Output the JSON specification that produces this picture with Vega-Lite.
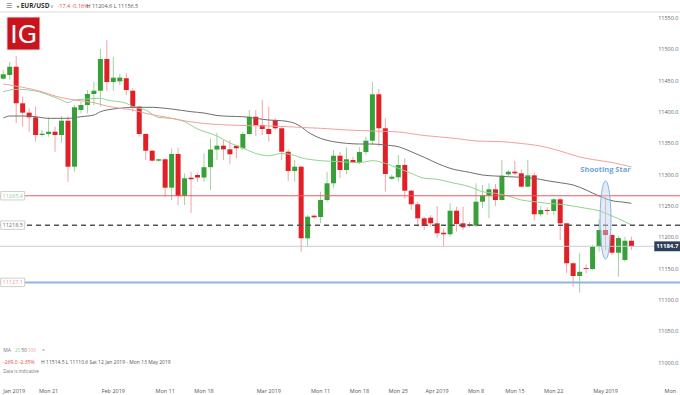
{
  "$schema": "https://vega.github.io/schema/vega-lite/v6.json",
  "width": 680,
  "height": 385,
  "autosize": {"type": "none"},
  "padding": {"left": 0, "top": 0, "right": 0, "bottom": 10},
  "background": "white",
  "config": {"view": {"stroke": null}, "font": "Open Sans"},
  "datasets": {
    "candles": [
      {"d":"2019-01-13","o":11452.3,"h":11466.1,"l":11450.7,"c":11459.3},
      {"d":"2019-01-14","o":11458.2,"h":11479.4,"l":11450.7,"c":11471.4},
      {"d":"2019-01-15","o":11471.4,"h":11488.5,"l":11381.1,"c":11413.0},
      {"d":"2019-01-16","o":11413.0,"h":11423.5,"l":11375.6,"c":11398.0},
      {"d":"2019-01-17","o":11398.0,"h":11405.0,"l":11367.6,"c":11390.6},
      {"d":"2019-01-18","o":11390.6,"h":11407.6,"l":11351.7,"c":11362.4},
      {"d":"2019-01-20","o":11362.4,"h":11370.4,"l":11359.7,"c":11364.5},
      {"d":"2019-01-21","o":11364.0,"h":11390.6,"l":11359.7,"c":11367.6},
      {"d":"2019-01-22","o":11367.6,"h":11375.6,"l":11335.7,"c":11362.4},
      {"d":"2019-01-23","o":11362.4,"h":11392.7,"l":11350.1,"c":11385.2},
      {"d":"2019-01-24","o":11385.2,"h":11392.7,"l":11287.8,"c":11311.8},
      {"d":"2019-01-25","o":11311.8,"h":11410.3,"l":11303.8,"c":11406.6},
      {"d":"2019-01-27","o":11402.3,"h":11415.5,"l":11397.0,"c":11410.3},
      {"d":"2019-01-28","o":11410.3,"h":11434.2,"l":11397.0,"c":11427.8},
      {"d":"2019-01-29","o":11427.8,"h":11447.5,"l":11410.3,"c":11433.1},
      {"d":"2019-01-30","o":11433.1,"h":11499.7,"l":11407.6,"c":11483.7},
      {"d":"2019-01-31","o":11483.7,"h":11514.5,"l":11433.1,"c":11447.0},
      {"d":"2019-02-01","o":11447.0,"h":11487.4,"l":11433.1,"c":11453.9},
      {"d":"2019-02-03","o":11448.0,"h":11460.0,"l":11442.0,"c":11454.0},
      {"d":"2019-02-04","o":11452.9,"h":11460.9,"l":11426.2,"c":11434.2},
      {"d":"2019-02-05","o":11433.1,"h":11436.9,"l":11399.6,"c":11407.6},
      {"d":"2019-02-06","o":11407.6,"h":11409.0,"l":11359.7,"c":11364.0},
      {"d":"2019-02-07","o":11364.0,"h":11365.1,"l":11322.5,"c":11337.3},
      {"d":"2019-02-08","o":11337.3,"h":11338.5,"l":11319.8,"c":11321.4},
      {"d":"2019-02-10","o":11321.4,"h":11325.2,"l":11319.8,"c":11323.6},
      {"d":"2019-02-11","o":11323.6,"h":11325.2,"l":11263.9,"c":11278.3},
      {"d":"2019-02-12","o":11278.3,"h":11341.2,"l":11258.6,"c":11332.1},
      {"d":"2019-02-13","o":11332.1,"h":11341.2,"l":11250.6,"c":11265.0},
      {"d":"2019-02-14","o":11265.0,"h":11301.2,"l":11250.6,"c":11293.3},
      {"d":"2019-02-15","o":11294.2,"h":11303.8,"l":11237.9,"c":11291.7},
      {"d":"2019-02-17","o":11298.5,"h":11301.2,"l":11287.8,"c":11294.5},
      {"d":"2019-02-18","o":11294.5,"h":11333.2,"l":11287.8,"c":11311.0},
      {"d":"2019-02-19","o":11311.0,"h":11356.8,"l":11274.6,"c":11339.2},
      {"d":"2019-02-20","o":11339.2,"h":11366.4,"l":11322.5,"c":11345.3},
      {"d":"2019-02-21","o":11345.3,"h":11354.4,"l":11322.5,"c":11339.5},
      {"d":"2019-02-22","o":11339.5,"h":11354.4,"l":11315.6,"c":11331.6},
      {"d":"2019-02-24","o":11345.3,"h":11346.5,"l":11325.2,"c":11341.2},
      {"d":"2019-02-25","o":11341.2,"h":11367.6,"l":11338.4,"c":11364.0},
      {"d":"2019-02-26","o":11364.0,"h":11402.3,"l":11362.4,"c":11391.6},
      {"d":"2019-02-27","o":11391.6,"h":11402.3,"l":11360.8,"c":11378.3},
      {"d":"2019-02-28","o":11378.3,"h":11418.3,"l":11362.4,"c":11372.0},
      {"d":"2019-03-01","o":11372.0,"h":11407.6,"l":11351.7,"c":11364.0},
      {"d":"2019-03-03","o":11386.3,"h":11389.0,"l":11370.4,"c":11373.1},
      {"d":"2019-03-04","o":11373.1,"h":11375.6,"l":11322.5,"c":11335.7},
      {"d":"2019-03-05","o":11335.7,"h":11339.5,"l":11289.4,"c":11304.9},
      {"d":"2019-03-06","o":11304.9,"h":11322.5,"l":11287.8,"c":11311.8},
      {"d":"2019-03-07","o":11311.8,"h":11312.9,"l":11176.1,"c":11197.5},
      {"d":"2019-03-08","o":11197.5,"h":11234.7,"l":11184.1,"c":11232.0},
      {"d":"2019-03-10","o":11233.6,"h":11235.0,"l":11229.0,"c":11231.0},
      {"d":"2019-03-11","o":11231.5,"h":11271.9,"l":11221.4,"c":11258.6},
      {"d":"2019-03-12","o":11258.6,"h":11303.8,"l":11255.9,"c":11285.3},
      {"d":"2019-03-13","o":11285.3,"h":11338.4,"l":11277.3,"c":11329.3},
      {"d":"2019-03-14","o":11329.3,"h":11335.7,"l":11293.3,"c":11306.5},
      {"d":"2019-03-15","o":11306.5,"h":11342.8,"l":11300.1,"c":11323.6},
      {"d":"2019-03-17","o":11322.5,"h":11327.7,"l":11317.2,"c":11318.8},
      {"d":"2019-03-18","o":11318.2,"h":11342.8,"l":11316.1,"c":11335.2},
      {"d":"2019-03-19","o":11335.2,"h":11359.7,"l":11330.5,"c":11353.3},
      {"d":"2019-03-20","o":11353.3,"h":11447.5,"l":11346.4,"c":11427.4},
      {"d":"2019-03-21","o":11427.4,"h":11435.8,"l":11343.7,"c":11373.1},
      {"d":"2019-03-22","o":11373.1,"h":11389.0,"l":11271.9,"c":11300.1},
      {"d":"2019-03-24","o":11292.6,"h":11299.3,"l":11290.5,"c":11295.8},
      {"d":"2019-03-25","o":11294.9,"h":11330.5,"l":11287.8,"c":11314.5},
      {"d":"2019-03-26","o":11314.5,"h":11325.2,"l":11261.3,"c":11273.5},
      {"d":"2019-03-27","o":11273.5,"h":11274.6,"l":11242.7,"c":11251.8},
      {"d":"2019-03-28","o":11251.8,"h":11255.9,"l":11216.0,"c":11229.4},
      {"d":"2019-03-29","o":11229.4,"h":11232.0,"l":11210.7,"c":11217.1},
      {"d":"2019-03-31","o":11230.4,"h":11234.7,"l":11216.0,"c":11221.4},
      {"d":"2019-04-01","o":11221.4,"h":11249.0,"l":11198.4,"c":11205.5},
      {"d":"2019-04-02","o":11206.4,"h":11213.4,"l":11184.1,"c":11203.9},
      {"d":"2019-04-03","o":11203.9,"h":11253.4,"l":11200.0,"c":11241.5},
      {"d":"2019-04-04","o":11241.5,"h":11247.9,"l":11208.0,"c":11220.3},
      {"d":"2019-04-05","o":11221.4,"h":11247.9,"l":11210.7,"c":11215.0},
      {"d":"2019-04-07","o":11219.8,"h":11223.5,"l":11215.0,"c":11217.6},
      {"d":"2019-04-08","o":11217.6,"h":11285.3,"l":11216.0,"c":11255.9},
      {"d":"2019-04-09","o":11255.9,"h":11282.6,"l":11245.8,"c":11265.8},
      {"d":"2019-04-10","o":11265.8,"h":11285.3,"l":11229.4,"c":11275.7},
      {"d":"2019-04-11","o":11275.7,"h":11284.2,"l":11249.0,"c":11258.6},
      {"d":"2019-04-12","o":11258.6,"h":11322.5,"l":11257.5,"c":11297.4},
      {"d":"2019-04-14","o":11299.6,"h":11306.5,"l":11295.8,"c":11303.8},
      {"d":"2019-04-15","o":11303.8,"h":11321.4,"l":11298.5,"c":11301.2},
      {"d":"2019-04-16","o":11301.2,"h":11307.6,"l":11278.9,"c":11279.9},
      {"d":"2019-04-17","o":11279.9,"h":11322.5,"l":11278.9,"c":11298.0},
      {"d":"2019-04-18","o":11298.0,"h":11302.2,"l":11226.7,"c":11235.8},
      {"d":"2019-04-19","o":11235.8,"h":11249.0,"l":11232.0,"c":11242.7},
      {"d":"2019-04-21","o":11242.7,"h":11247.0,"l":11234.7,"c":11241.1},
      {"d":"2019-04-22","o":11241.1,"h":11261.3,"l":11234.7,"c":11259.7},
      {"d":"2019-04-23","o":11259.7,"h":11261.3,"l":11194.8,"c":11221.4},
      {"d":"2019-04-24","o":11221.4,"h":11223.0,"l":11141.6,"c":11157.6},
      {"d":"2019-04-25","o":11157.6,"h":11159.2,"l":11120.2,"c":11137.3},
      {"d":"2019-04-26","o":11137.3,"h":11173.5,"l":11110.6,"c":11144.0},
      {"d":"2019-04-28","o":11150.0,"h":11156.0,"l":11141.6,"c":11148.5},
      {"d":"2019-04-29","o":11148.5,"h":11186.8,"l":11146.9,"c":11184.1},
      {"d":"2019-04-30","o":11184.1,"h":11227.8,"l":11176.1,"c":11210.7},
      {"d":"2019-05-01","o":11210.7,"h":11263.4,"l":11178.8,"c":11202.7},
      {"d":"2019-05-02","o":11202.7,"h":11204.3,"l":11170.8,"c":11174.5},
      {"d":"2019-05-03","o":11174.5,"h":11201.1,"l":11136.2,"c":11197.9},
      {"d":"2019-05-05","o":11162.8,"h":11200.0,"l":11160.1,"c":11193.6},
      {"d":"2019-05-06","o":11193.6,"h":11200.0,"l":11178.8,"c":11184.7}
    ],
    "ma": [
      {"p":"20","d":"2019-01-13","v":11431.5},{"p":"20","d":"2019-01-15","v":11435.3},{"p":"20","d":"2019-01-18","v":11432.6},{"p":"20","d":"2019-01-21","v":11426.2},{"p":"20","d":"2019-01-23","v":11418.3},{"p":"20","d":"2019-01-24","v":11414.0},{"p":"20","d":"2019-01-25","v":11418.3},{"p":"20","d":"2019-01-28","v":11419.9},{"p":"20","d":"2019-01-30","v":11421.0},{"p":"20","d":"2019-01-31","v":11418.3},{"p":"20","d":"2019-02-04","v":11413.0},{"p":"20","d":"2019-02-05","v":11407.6},{"p":"20","d":"2019-02-07","v":11402.3},{"p":"20","d":"2019-02-10","v":11390.3},{"p":"20","d":"2019-02-12","v":11389.0},{"p":"20","d":"2019-02-14","v":11383.6},{"p":"20","d":"2019-02-17","v":11372.0},{"p":"20","d":"2019-02-20","v":11360.8},{"p":"20","d":"2019-02-22","v":11349.6},{"p":"20","d":"2019-02-25","v":11341.6},{"p":"20","d":"2019-02-27","v":11332.9},{"p":"20","d":"2019-03-01","v":11329.3},{"p":"20","d":"2019-03-04","v":11332.9},{"p":"20","d":"2019-03-06","v":11329.7},{"p":"20","d":"2019-03-07","v":11326.1},{"p":"20","d":"2019-03-10","v":11322.5},{"p":"20","d":"2019-03-11","v":11321.4},{"p":"20","d":"2019-03-14","v":11319.8},{"p":"20","d":"2019-03-18","v":11318.2},{"p":"20","d":"2019-03-20","v":11321.4},{"p":"20","d":"2019-03-22","v":11317.2},{"p":"20","d":"2019-03-25","v":11309.2},{"p":"20","d":"2019-03-27","v":11301.2},{"p":"20","d":"2019-03-29","v":11293.3},{"p":"20","d":"2019-04-01","v":11291.7},{"p":"20","d":"2019-04-03","v":11286.9},{"p":"20","d":"2019-04-07","v":11279.9},{"p":"20","d":"2019-04-09","v":11271.9},{"p":"20","d":"2019-04-11","v":11269.3},{"p":"20","d":"2019-04-14","v":11265.0},{"p":"20","d":"2019-04-16","v":11258.6},{"p":"20","d":"2019-04-18","v":11255.9},{"p":"20","d":"2019-04-21","v":11253.3},{"p":"20","d":"2019-04-23","v":11251.8},{"p":"20","d":"2019-04-25","v":11249.0},{"p":"20","d":"2019-04-28","v":11245.4},{"p":"20","d":"2019-04-30","v":11241.5},{"p":"20","d":"2019-05-02","v":11233.1},{"p":"20","d":"2019-05-05","v":11224.0},{"p":"20","d":"2019-05-06","v":11218.7},
      {"p":"50","d":"2019-01-13","v":11389.5},{"p":"50","d":"2019-01-14","v":11392.7},{"p":"50","d":"2019-01-16","v":11392.7},{"p":"50","d":"2019-01-18","v":11391.6},{"p":"50","d":"2019-01-21","v":11389.0},{"p":"50","d":"2019-01-24","v":11389.0},{"p":"50","d":"2019-01-27","v":11391.6},{"p":"50","d":"2019-01-29","v":11394.3},{"p":"50","d":"2019-01-30","v":11399.6},{"p":"50","d":"2019-01-31","v":11402.3},{"p":"50","d":"2019-02-03","v":11405.0},{"p":"50","d":"2019-02-05","v":11406.6},{"p":"50","d":"2019-02-08","v":11406.6},{"p":"50","d":"2019-02-11","v":11405.0},{"p":"50","d":"2019-02-12","v":11403.9},{"p":"50","d":"2019-02-15","v":11399.6},{"p":"50","d":"2019-02-18","v":11397.5},{"p":"50","d":"2019-02-20","v":11393.5},{"p":"50","d":"2019-02-22","v":11392.2},{"p":"50","d":"2019-02-25","v":11391.6},{"p":"50","d":"2019-02-27","v":11389.0},{"p":"50","d":"2019-03-01","v":11386.3},{"p":"50","d":"2019-03-04","v":11385.2},{"p":"50","d":"2019-03-06","v":11381.1},{"p":"50","d":"2019-03-07","v":11375.6},{"p":"50","d":"2019-03-08","v":11367.6},{"p":"50","d":"2019-03-11","v":11357.1},{"p":"50","d":"2019-03-13","v":11351.7},{"p":"50","d":"2019-03-15","v":11349.1},{"p":"50","d":"2019-03-18","v":11348.0},{"p":"50","d":"2019-03-20","v":11348.0},{"p":"50","d":"2019-03-22","v":11346.4},{"p":"50","d":"2019-03-25","v":11343.7},{"p":"50","d":"2019-03-27","v":11335.7},{"p":"50","d":"2019-03-29","v":11326.8},{"p":"50","d":"2019-04-01","v":11317.2},{"p":"50","d":"2019-04-03","v":11309.2},{"p":"50","d":"2019-04-07","v":11302.8},{"p":"50","d":"2019-04-09","v":11298.5},{"p":"50","d":"2019-04-11","v":11296.9},{"p":"50","d":"2019-04-14","v":11295.8},{"p":"50","d":"2019-04-16","v":11294.9},{"p":"50","d":"2019-04-18","v":11293.3},{"p":"50","d":"2019-04-21","v":11289.4},{"p":"50","d":"2019-04-23","v":11286.2},{"p":"50","d":"2019-04-25","v":11282.6},{"p":"50","d":"2019-04-28","v":11274.6},{"p":"50","d":"2019-04-30","v":11265.0},{"p":"50","d":"2019-05-02","v":11257.5},{"p":"50","d":"2019-05-05","v":11254.9},{"p":"50","d":"2019-05-06","v":11253.3},
      {"p":"100","d":"2019-01-13","v":11443.8},{"p":"100","d":"2019-01-14","v":11442.2},{"p":"100","d":"2019-01-16","v":11438.5},{"p":"100","d":"2019-01-20","v":11431.5},{"p":"100","d":"2019-01-22","v":11424.6},{"p":"100","d":"2019-01-25","v":11418.3},{"p":"100","d":"2019-01-29","v":11414.0},{"p":"100","d":"2019-01-31","v":11408.7},{"p":"100","d":"2019-02-03","v":11405.0},{"p":"100","d":"2019-02-05","v":11402.3},{"p":"100","d":"2019-02-07","v":11397.0},{"p":"100","d":"2019-02-11","v":11391.1},{"p":"100","d":"2019-02-13","v":11386.8},{"p":"100","d":"2019-02-17","v":11382.0},{"p":"100","d":"2019-02-19","v":11379.9},{"p":"100","d":"2019-02-22","v":11378.3},{"p":"100","d":"2019-02-26","v":11377.2},{"p":"100","d":"2019-03-01","v":11376.8},{"p":"100","d":"2019-03-05","v":11375.6},{"p":"100","d":"2019-03-08","v":11374.0},{"p":"100","d":"2019-03-11","v":11373.1},{"p":"100","d":"2019-03-15","v":11370.4},{"p":"100","d":"2019-03-20","v":11368.8},{"p":"100","d":"2019-03-25","v":11367.2},{"p":"100","d":"2019-03-29","v":11361.6},{"p":"100","d":"2019-04-04","v":11356.8},{"p":"100","d":"2019-04-08","v":11352.8},{"p":"100","d":"2019-04-12","v":11351.7},{"p":"100","d":"2019-04-16","v":11348.8},{"p":"100","d":"2019-04-18","v":11346.4},{"p":"100","d":"2019-04-21","v":11342.4},{"p":"100","d":"2019-04-24","v":11333.6},{"p":"100","d":"2019-04-26","v":11327.3},{"p":"100","d":"2019-04-29","v":11323.3},{"p":"100","d":"2019-05-02","v":11318.5},{"p":"100","d":"2019-05-06","v":11311.3}
    ]
  },
  "layer": [
    {
      "data": {"name": "candles"},
      "mark": {"type": "rule", "strokeWidth": 1},
      "encoding": {
        "x": {"field": "d", "type": "ordinal", "scale": {"type": "band", "paddingInner": 0, "paddingOuter": 0, "domain": ["2019-01-13","2019-01-14","2019-01-15","2019-01-16","2019-01-17","2019-01-18","2019-01-20","2019-01-21","2019-01-22","2019-01-23","2019-01-24","2019-01-25","2019-01-27","2019-01-28","2019-01-29","2019-01-30","2019-01-31","2019-02-01","2019-02-03","2019-02-04","2019-02-05","2019-02-06","2019-02-07","2019-02-08","2019-02-10","2019-02-11","2019-02-12","2019-02-13","2019-02-14","2019-02-15","2019-02-17","2019-02-18","2019-02-19","2019-02-20","2019-02-21","2019-02-22","2019-02-24","2019-02-25","2019-02-26","2019-02-27","2019-02-28","2019-03-01","2019-03-03","2019-03-04","2019-03-05","2019-03-06","2019-03-07","2019-03-08","2019-03-10","2019-03-11","2019-03-12","2019-03-13","2019-03-14","2019-03-15","2019-03-17","2019-03-18","2019-03-19","2019-03-20","2019-03-21","2019-03-22","2019-03-24","2019-03-25","2019-03-26","2019-03-27","2019-03-28","2019-03-29","2019-03-31","2019-04-01","2019-04-02","2019-04-03","2019-04-04","2019-04-05","2019-04-07","2019-04-08","2019-04-09","2019-04-10","2019-04-11","2019-04-12","2019-04-14","2019-04-15","2019-04-16","2019-04-17","2019-04-18","2019-04-19","2019-04-21","2019-04-22","2019-04-23","2019-04-24","2019-04-25","2019-04-26","2019-04-28","2019-04-29","2019-04-30","2019-05-01","2019-05-02","2019-05-03","2019-05-05","2019-05-06","2019-05-07","2019-05-08","2019-05-09","2019-05-10","2019-05-12","2019-05-13","2019-05-14"]},
          "axis": {"orient": "bottom", "values": ["2019-01-13","2019-01-21","2019-02-01","2019-02-11","2019-02-18","2019-03-01","2019-03-11","2019-03-18","2019-03-25","2019-04-01","2019-04-08","2019-04-15","2019-04-22","2019-05-01","2019-05-13"], "labelExpr": "{'2019-01-13':'Jan 2019','2019-01-21':'Mon 21','2019-02-01':'Feb 2019','2019-02-11':'Mon 11','2019-02-18':'Mon 18','2019-03-01':'Mar 2019','2019-03-11':'Mon 11','2019-03-18':'Mon 18','2019-03-25':'Mon 25','2019-04-01':'Apr 2019','2019-04-08':'Mon 8','2019-04-15':'Mon 15','2019-04-22':'Mon 22','2019-05-01':'May 2019','2019-05-13':'Mon'}[datum.value]", "labelAlign": {"condition": {"test": "datum.value == '2019-01-13'", "value": "left"}, "value": "center"}, "labelAngle": 0, "ticks": false, "domain": false, "grid": false, "title": null, "labelFontSize": 5.5, "labelColor": "#555555", "labelPadding": 3, "labelFlush": false, "labelOverlap": false}},
        "y": {"field": "l", "type": "quantitative", "scale": {"domain": [10963.3, 11577.9], "nice": false, "zero": false}, "axis": {"orient": "right", "values": [11000, 11050, 11100, 11150, 11200, 11250, 11300, 11350, 11400, 11450, 11500, 11550], "tickCount": 12, "format": ".1f", "labelAlign": "right", "labelBaseline": "middle", "labelPadding": -2, "ticks": false, "domain": false, "grid": false, "title": null, "labelFontSize": 5.5, "labelColor": "#666666", "labelOverlap": false, "labelSeparation": 0, "labelBound": false}},
        "y2": {"field": "h"},
        "color": {"condition": {"test": "datum.c >= datum.o", "value": "#9fd49f"}, "value": "#f4a3a6"}
      }
    },
    {
      "data": {"values": [{"v": 11558.7}]},
      "mark": {"type": "rule", "color": "#dcdcdc", "strokeWidth": 1},
      "encoding": {"y": {"field": "v", "type": "quantitative"}}
    },
    {
      "data": {"name": "candles"},
      "mark": {"type": "bar", "width": 5},
      "encoding": {
        "x": {"field": "d", "type": "ordinal", "scale": {"type": "band"}},
        "y": {"field": "o", "type": "quantitative"},
        "y2": {"field": "c"},
        "color": {"condition": {"test": "datum.c >= datum.o", "value": "#38a038"}, "value": "#e11f27"}
      }
    },
    {
      "data": {"name": "ma"},
      "mark": {"type": "line", "strokeWidth": 1, "interpolate": "monotone"},
      "encoding": {
        "x": {"field": "d", "type": "ordinal", "scale": {"type": "band"}},
        "y": {"field": "v", "type": "quantitative"},
        "color": {"field": "p", "type": "nominal", "scale": {"domain": ["20", "50", "100"], "range": ["#93d393", "#6e6e6e", "#f3a0a0"]}, "legend": null}
      }
    },
    {
      "data": {"values": [{"v": 11265.4}]},
      "mark": {"type": "rule", "color": "#ef5a5c", "strokeWidth": 1},
      "encoding": {"y": {"field": "v", "type": "quantitative"}}
    },
    {
      "data": {"values": [{"v": 11218.5}]},
      "mark": {"type": "rule", "color": "#555555", "strokeWidth": 1.5, "strokeDash": [5, 4]},
      "encoding": {"y": {"field": "v", "type": "quantitative"}}
    },
    {
      "data": {"values": [{"v": 11184.7}]},
      "mark": {"type": "rule", "color": "#c9cdd6", "strokeWidth": 1},
      "encoding": {"y": {"field": "v", "type": "quantitative"}}
    },
    {
      "data": {"values": [{"v": 11127.1}]},
      "mark": {"type": "rule", "color": "#8db7e2", "strokeWidth": 2},
      "encoding": {"y": {"field": "v", "type": "quantitative"}}
    },
    {
      "data": {"values": [{"d": "2019-05-01", "v": 11226.7}]},
      "mark": {"type": "point", "shape": "M0,-1C0.0773,-1,0.14,-0.5523,0.14,0C0.14,0.5523,0.0773,1,0,1C-0.0773,1,-0.14,0.5523,-0.14,0C-0.14,-0.5523,-0.0773,-1,0,-1Z", "size": 6084, "filled": true, "fill": "#bcd5ee", "fillOpacity": 0.45, "stroke": "#7fabdc", "strokeWidth": 1, "strokeOpacity": 0.9, "opacity": 1},
      "encoding": {"x": {"field": "d", "type": "ordinal", "scale": {"type": "band"}}, "y": {"field": "v", "type": "quantitative"}}
    },
    {
      "data": {"values": [{"d": "2019-05-01", "v": 11307.3, "t": "Shooting Star"}]},
      "mark": {"type": "text", "color": "#6ea6d8", "fontWeight": "bold", "fontSize": 7.5, "align": "center", "baseline": "middle"},
      "encoding": {"x": {"field": "d", "type": "ordinal", "scale": {"type": "band"}}, "y": {"field": "v", "type": "quantitative"}, "text": {"field": "t"}}
    },
    {
      "data": {"values": [{"d": "2019-01-16", "v": 11524.4}]},
      "mark": {"type": "point", "shape": "square", "size": 1089, "filled": true, "color": "#c8141c", "opacity": 1, "xOffset": 0.8, "stroke": "#e6e6e6", "strokeWidth": 1},
      "encoding": {"x": {"field": "d", "type": "ordinal", "scale": {"type": "band"}}, "y": {"field": "v", "type": "quantitative"}}
    },
    {
      "data": {"values": [{"d": "2019-01-16", "v": 11524.4, "t": "IG"}]},
      "mark": {"type": "text", "color": "white", "fontSize": 25, "font": "DejaVu Sans", "fontWeight": "normal", "align": "center", "baseline": "middle", "dx": 1, "dy": 1},
      "encoding": {"x": {"field": "d", "type": "ordinal", "scale": {"type": "band"}}, "y": {"field": "v", "type": "quantitative"}, "text": {"field": "t"}}
    },
    {
      "data": {"values": [{"d": "2019-05-13", "v": 11184.7}]},
      "mark": {"type": "point", "shape": "M-1,-0.38H1V0.38H-1Z", "size": 676, "filled": true, "color": "#2e3f5b", "opacity": 1, "xOffset": -3},
      "encoding": {"x": {"field": "d", "type": "ordinal", "scale": {"type": "band"}}, "y": {"field": "v", "type": "quantitative"}}
    },
    {
      "data": {"values": [{"d": "2019-05-13", "v": 11184.7, "t": "11184.7"}]},
      "mark": {"type": "text", "color": "white", "fontSize": 6, "fontWeight": "bold", "align": "center", "baseline": "middle", "dx": -3},
      "encoding": {"x": {"field": "d", "type": "ordinal", "scale": {"type": "band"}}, "y": {"field": "v", "type": "quantitative"}, "text": {"field": "t"}}
    },
    {
      "data": {"values": [{"d": "2019-01-14", "v": 11265.4}, {"d": "2019-01-14", "v": 11218.5}, {"d": "2019-01-14", "v": 11127.1}]},
      "mark": {"type": "point", "shape": "M-1,-0.35H1V0.35H-1Z", "size": 576, "filled": true, "fill": "white", "stroke": "#cfcfcf", "strokeWidth": 1, "opacity": 1, "xOffset": 3},
      "encoding": {"x": {"field": "d", "type": "ordinal", "scale": {"type": "band"}}, "y": {"field": "v", "type": "quantitative"}}
    },
    {
      "data": {"values": [{"d": "2019-01-14", "v": 11265.4, "t": "11265.4", "k": "r"}, {"d": "2019-01-14", "v": 11218.5, "t": "11218.5", "k": "g"}, {"d": "2019-01-14", "v": 11127.1, "t": "11127.1", "k": "b"}]},
      "mark": {"type": "text", "fontSize": 5.5, "align": "center", "baseline": "middle", "dx": 3},
      "encoding": {"x": {"field": "d", "type": "ordinal", "scale": {"type": "band"}}, "y": {"field": "v", "type": "quantitative"}, "text": {"field": "t"}, "color": {"field": "k", "type": "nominal", "scale": {"domain": ["r", "g", "b"], "range": ["#e4464a", "#444444", "#4f8fd0"]}, "legend": null}}
    },
    {
      "data": {"values": [{"d": "2019-01-14", "v": 11568.3, "t": "☰"}]},
      "mark": {"type": "text", "fontSize": 7, "color": "#888888", "align": "left", "baseline": "middle", "dx": -4},
      "encoding": {"x": {"field": "d", "type": "ordinal", "scale": {"type": "band"}}, "y": {"field": "v", "type": "quantitative"}, "text": {"field": "t"}}
    },
    {
      "data": {"values": [{"d": "2019-01-21", "v": 11568.3, "t": "∨"}]},
      "mark": {"type": "text", "fontSize": 5, "color": "#888888", "align": "left", "baseline": "middle", "dx": 1},
      "encoding": {"x": {"field": "d", "type": "ordinal", "scale": {"type": "band"}}, "y": {"field": "v", "type": "quantitative"}, "text": {"field": "t"}}
    },
    {
      "data": {"values": [{"d": "2019-01-15", "v": 11568.3, "t": "●"}]},
      "mark": {"type": "text", "fontSize": 5, "color": "#2e9d2e", "align": "left", "baseline": "middle", "dx": 0},
      "encoding": {"x": {"field": "d", "type": "ordinal", "scale": {"type": "band"}}, "y": {"field": "v", "type": "quantitative"}, "text": {"field": "t"}}
    },
    {
      "data": {"values": [{"d": "2019-01-16", "v": 11568.3, "t": "EUR/USD"}]},
      "mark": {"type": "text", "fontSize": 6.5, "fontWeight": "bold", "color": "#333333", "align": "left", "baseline": "middle", "dx": -2},
      "encoding": {"x": {"field": "d", "type": "ordinal", "scale": {"type": "band"}}, "y": {"field": "v", "type": "quantitative"}, "text": {"field": "t"}}
    },
    {
      "data": {"values": [{"d": "2019-01-23", "v": 11568.3, "t": "-17.4 -0.16%"}]},
      "mark": {"type": "text", "fontSize": 5.5, "color": "#e4464a", "align": "left", "baseline": "middle", "dx": -4},
      "encoding": {"x": {"field": "d", "type": "ordinal", "scale": {"type": "band"}}, "y": {"field": "v", "type": "quantitative"}, "text": {"field": "t"}}
    },
    {
      "data": {"values": [{"d": "2019-01-28", "v": 11568.3, "t": "H 11204.6  L 11156.5"}]},
      "mark": {"type": "text", "fontSize": 5.5, "color": "#555555", "align": "left", "baseline": "middle", "dx": -1},
      "encoding": {"x": {"field": "d", "type": "ordinal", "scale": {"type": "band"}}, "y": {"field": "v", "type": "quantitative"}, "text": {"field": "t"}}
    },
    {
      "data": {"values": [{"d": "2019-01-13", "v": 11019.2, "t": "MA"}, {"d": "2019-01-20", "v": 11019.2, "t": "×"}]},
      "mark": {"type": "text", "fontSize": 5, "color": "#777777", "align": "left", "baseline": "middle", "dx": 0},
      "encoding": {"x": {"field": "d", "type": "ordinal", "scale": {"type": "band"}}, "y": {"field": "v", "type": "quantitative"}, "text": {"field": "t"}}
    },
    {
      "data": {"values": [{"d": "2019-01-15", "v": 11019.2, "t": "20", "k": "20"}, {"d": "2019-01-16", "v": 11019.2, "t": "50", "k": "50"}, {"d": "2019-01-17", "v": 11019.2, "t": "100", "k": "100"}]},
      "mark": {"type": "text", "fontSize": 5, "align": "left", "baseline": "middle", "dx": -1.5},
      "encoding": {"x": {"field": "d", "type": "ordinal", "scale": {"type": "band"}}, "y": {"field": "v", "type": "quantitative"}, "text": {"field": "t"}, "color": {"field": "k", "type": "nominal", "scale": {"domain": ["20", "50", "100"], "range": ["#5cb85c", "#555555", "#e4464a"]}, "legend": null}}
    },
    {
      "data": {"values": [{"d": "2019-01-13", "v": 11000.0, "t": "-269.0  -2.35%"}]},
      "mark": {"type": "text", "fontSize": 5, "color": "#e4464a", "align": "left", "baseline": "middle", "dx": 0},
      "encoding": {"x": {"field": "d", "type": "ordinal", "scale": {"type": "band"}}, "y": {"field": "v", "type": "quantitative"}, "text": {"field": "t"}}
    },
    {
      "data": {"values": [{"d": "2019-01-20", "v": 11000.0, "t": "H 11514.5   L 11110.6   Sat 12 Jan 2019 - Mon 13 May 2019"}]},
      "mark": {"type": "text", "fontSize": 5, "color": "#555555", "align": "left", "baseline": "middle", "dx": -1},
      "encoding": {"x": {"field": "d", "type": "ordinal", "scale": {"type": "band"}}, "y": {"field": "v", "type": "quantitative"}, "text": {"field": "t"}}
    },
    {
      "data": {"values": [{"d": "2019-01-13", "v": 10984.0, "t": "Data is indicative"}]},
      "mark": {"type": "text", "fontSize": 4.5, "color": "#777777", "align": "left", "baseline": "middle", "dx": 0},
      "encoding": {"x": {"field": "d", "type": "ordinal", "scale": {"type": "band"}}, "y": {"field": "v", "type": "quantitative"}, "text": {"field": "t"}}
    }
  ]
}
